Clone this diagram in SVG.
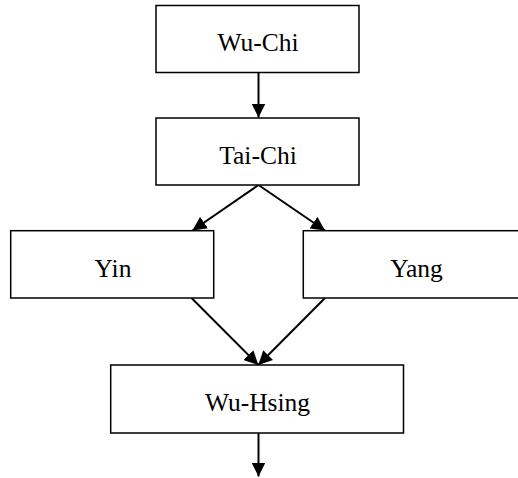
<svg xmlns="http://www.w3.org/2000/svg" width="518" height="478" viewBox="0 0 518 478">
<style>
.box{fill:#fff;stroke:#000;stroke-width:1.5}
.lbl{font-family:"Liberation Serif","Times New Roman",serif;font-size:25.5px;fill:#000;text-anchor:middle}
.edge{stroke:#000;stroke-width:2;fill:none}
</style>
<defs>
<marker id="ah" viewBox="0 0 14 14" refX="14" refY="7" markerWidth="14" markerHeight="14" markerUnits="userSpaceOnUse" orient="auto">
<path d="M0,0 L14,7 L0,14 Z" fill="#000"/>
</marker>
</defs>
<rect width="518" height="478" fill="#fff"/>
<g id="connectors">
<line class="edge" x1="258.5" y1="73" x2="258.5" y2="117.5" marker-end="url(#ah)"/>
<line class="edge" x1="258.5" y1="185" x2="192.5" y2="230.5" marker-end="url(#ah)"/>
<line class="edge" x1="258.5" y1="185" x2="325" y2="230.5" marker-end="url(#ah)"/>
<line class="edge" x1="191.5" y1="298" x2="258.3" y2="365" marker-end="url(#ah)"/>
<line class="edge" x1="325" y1="298" x2="258.3" y2="365" marker-end="url(#ah)"/>
<line class="edge" x1="258.5" y1="433" x2="258.5" y2="476.5" marker-end="url(#ah)"/>
</g>
<g id="wu-chi">
<rect class="box" x="156" y="5.5" width="203" height="67"/>
<text class="lbl" x="258" y="51">Wu-Chi</text>
</g>
<g id="tai-chi">
<rect class="box" x="156" y="118" width="203" height="67"/>
<text class="lbl" x="258" y="163.5">Tai-Chi</text>
</g>
<g id="yin">
<rect class="box" x="10.7" y="230.7" width="203" height="67.3"/>
<text class="lbl" x="113" y="276.5">Yin</text>
</g>
<g id="yang">
<rect class="box" x="303.3" y="230.7" width="230" height="67.3"/>
<text class="lbl" x="416.5" y="276.5">Yang</text>
</g>
<g id="wu-hsing">
<rect class="box" x="110.7" y="365" width="292.8" height="68"/>
<text class="lbl" x="257.5" y="410.5">Wu-Hsing</text>
</g>
</svg>
